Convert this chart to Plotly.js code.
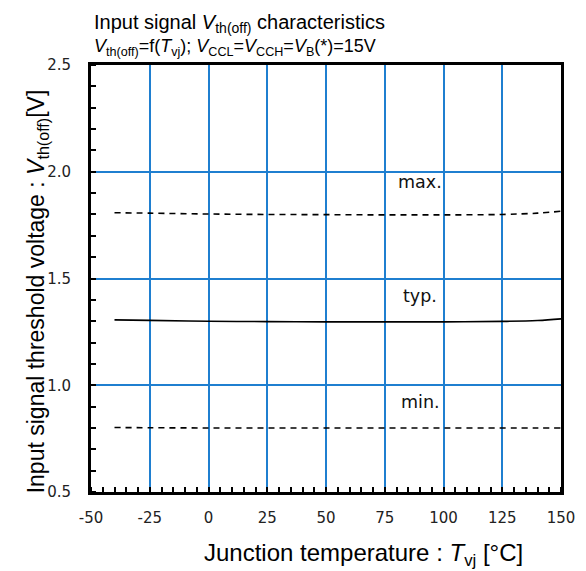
<!DOCTYPE html>
<html><head><meta charset="utf-8">
<script src="https://cdn.plot.ly/plotly-3.0.1.min.js"></script>
<style>body{margin:0;background:#fff}#c{width:586px;height:571px}</style>
</head><body><div id="c"></div>
<script>
const temps = [-40, -25, 0, 25, 50, 75, 100, 125, 140, 150];
const vMax = [1.808, 1.806, 1.802, 1.800, 1.799, 1.798, 1.798, 1.800, 1.806, 1.815];
const vTyp = [1.306, 1.304, 1.300, 1.298, 1.297, 1.297, 1.297, 1.299, 1.303, 1.311];
const vMin = [0.802, 0.801, 0.800, 0.800, 0.800, 0.800, 0.800, 0.800, 0.800, 0.800];
const labelTexts = ['max.', 'typ.', 'min.'];
const labelX = [90, 90, 90];
const labelY = [1.95, 1.42, 0.92];
const xTicks = [-50, -25, 0, 25, 50, 75, 100, 125, 150];
const yTicks = [0.5, 1.0, 1.5, 2.0, 2.5];

const lineBase = {mode:'lines', hoverinfo:'skip', showlegend:false};
const traces = [
  Object.assign({}, lineBase, {x:temps, y:vMax, line:{color:'#000', width:1.6, dash:'6px,5px', shape:'spline'}}),
  Object.assign({}, lineBase, {x:temps, y:vTyp, line:{color:'#000', width:1.6, shape:'spline'}}),
  Object.assign({}, lineBase, {x:temps, y:vMin, line:{color:'#000', width:1.6, dash:'6px,5px', shape:'spline'}})
];

const anns = labelTexts.map((t,i)=>({x:labelX[i], y:labelY[i], xref:'x', yref:'y', text:t, showarrow:false,
  font:{family:'DejaVu Sans, Verdana', size:17.5, color:'#111'}, xanchor:'center', yanchor:'middle'}));
anns.push({xref:'paper', yref:'paper', x:0.002, y:1, yshift:42, xanchor:'left', yanchor:'middle',
  text:'Input signal <i>V</i><sub>th(off)</sub> characteristics', showarrow:false,
  font:{family:'Liberation Sans, Arial', size:20, color:'#000'}});
anns.push({xref:'paper', yref:'paper', x:0.002, y:1, yshift:18, xanchor:'left', yanchor:'middle',
  text:'<i>V</i><sub>th(off)</sub>=f(<i>T</i><sub>vj</sub>); <i>V</i><sub>CCL</sub>=<i>V</i><sub>CCH</sub>=<i>V</i><sub>B</sub>(*)=15V', showarrow:false,
  font:{family:'Liberation Sans, Arial', size:18, color:'#000'}});
anns.push({xref:'paper', yref:'paper', x:0.58, y:0, yshift:-62, xanchor:'center', yanchor:'middle',
  text:'Junction temperature : <i>T</i><sub>vj</sub> [°C]', showarrow:false,
  font:{family:'Liberation Sans, Arial', size:24, color:'#000'}});
anns.push({xref:'paper', yref:'paper', x:0, xshift:-54, y:0.47, textangle:-90, xanchor:'center', yanchor:'middle',
  text:'Input signal threshold voltage : <i>V</i><sub>th(off)</sub>[V]', showarrow:false,
  font:{family:'Liberation Sans, Arial', size:23, color:'#000'}});

const layout = {
  width:586, height:571,
  margin:{l:91, r:25, t:65, b:79},
  paper_bgcolor:'#fff', plot_bgcolor:'#fff',
  showlegend:false,
  xaxis:{range:[-50,150], tickvals:xTicks, ticktext:xTicks.map(String),
    showgrid:true, gridcolor:'#1f7fd0', gridwidth:2,
    showline:true, linecolor:'#000', linewidth:3, mirror:true, zeroline:false,
    ticks:'', ticklabelstandoff:10, tickfont:{family:'DejaVu Sans, Verdana', size:15, color:'#222'},
    minor:{dtick:5, tick0:0, ticks:'inside', ticklen:5, tickwidth:2, tickcolor:'#000', showgrid:false}},
  yaxis:{range:[0.5,2.5], tickvals:yTicks, ticktext:yTicks.map(v=>v.toFixed(1)),
    showgrid:true, gridcolor:'#1f7fd0', gridwidth:2,
    showline:true, linecolor:'#000', linewidth:3, mirror:true, zeroline:false,
    ticks:'', ticklabelstandoff:14, tickfont:{family:'DejaVu Sans, Verdana', size:15, color:'#222'},
    minor:{dtick:0.1, tick0:0.5, ticks:'inside', ticklen:5, tickwidth:2, tickcolor:'#000', showgrid:false}},
  annotations:anns
};
Plotly.newPlot('c', traces, layout, {displayModeBar:false, staticPlot:true});
</script></body></html>
